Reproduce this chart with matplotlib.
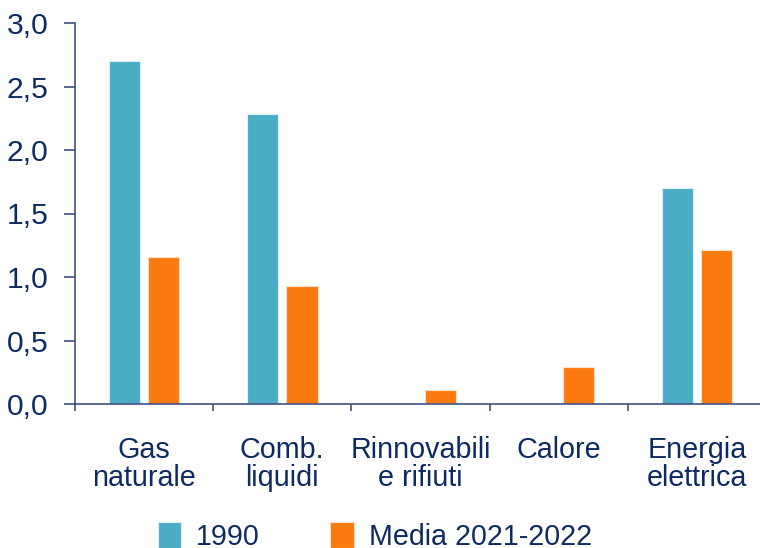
import numpy as np
import matplotlib
matplotlib.use("Agg")
import matplotlib.pyplot as plt

# Valori
categorie = ["Gas\nnaturale", "Comb.\nliquidi", "Rinnovabili\ne rifiuti", "Calore", "Energia\nelettrica"]
serie_1990 = [2.70, 2.28, 0.0, 0.0, 1.70]
serie_media = [1.16, 0.93, 0.11, 0.29, 1.21]
etichette_serie = ["1990", "Media 2021-2022"]
y_ticks = [0.0, 0.5, 1.0, 1.5, 2.0, 2.5, 3.0]

TEAL = "#4BACC6"
ORANGE = "#FB7A10"
NAVY = "#0E2A63"
SPINE = "#3F5183"

plt.rcParams['font.family'] = ['Liberation Sans', 'DejaVu Sans']

fig = plt.figure(figsize=(7.6, 5.48), dpi=100)
# asse: da x=75px a ~766px, y da 404px (zero) a 23px (3,0)
ax = fig.add_axes([75 / 760, (548 - 404) / 548, 691 / 760, 381 / 548])

x = np.arange(len(categorie))
w = 0.225
off = 0.1425
ax.bar(x - off, serie_1990, w, color=TEAL, edgecolor="#DDF0F5", linewidth=0.8, label=etichette_serie[0])
ax.bar(x + off, serie_media, w, color=ORANGE, edgecolor="#FFE0C8", linewidth=0.8, label=etichette_serie[1])

ax.set_xlim(-0.5, len(categorie) - 0.5)
ax.set_ylim(0, 3.0)
ax.set_yticks(y_ticks)
ax.set_yticklabels([f"{v:.1f}".replace(".", ",") for v in y_ticks])

ax.set_xticks(np.arange(len(categorie) + 1) - 0.5)
ax.set_xticklabels([])
ax.set_xticks(x, minor=True)
ax.set_xticklabels(categorie, minor=True)
ax.tick_params(axis="x", which="minor", length=0, pad=23, labelsize=20.7, labelcolor=NAVY)
ax.tick_params(axis="x", which="major", length=5, width=1.2, color=SPINE, direction="out")
ax.tick_params(axis="y", length=8, width=1.2, color=SPINE, labelsize=21.7, labelcolor=NAVY, pad=11)
for lbl in ax.get_xticklabels(minor=True):
    lbl.set_linespacing(1.0)

for s in ["top", "right"]:
    ax.spines[s].set_visible(False)
for s in ["left", "bottom"]:
    ax.spines[s].set_color(SPINE)
    ax.spines[s].set_linewidth(1.2)

# legenda in basso, tagliata dal bordo come nell'originale
leg = fig.legend(loc="upper left", bbox_to_anchor=(158 / 760, (548 - 522) / 548), ncol=2, frameon=False,
                 fontsize=20.6, labelcolor=NAVY, handlelength=0.82, handleheight=1.0,
                 handletextpad=0.52, columnspacing=2.45, borderpad=0, borderaxespad=0)

fig.savefig("out.png", dpi=100)
